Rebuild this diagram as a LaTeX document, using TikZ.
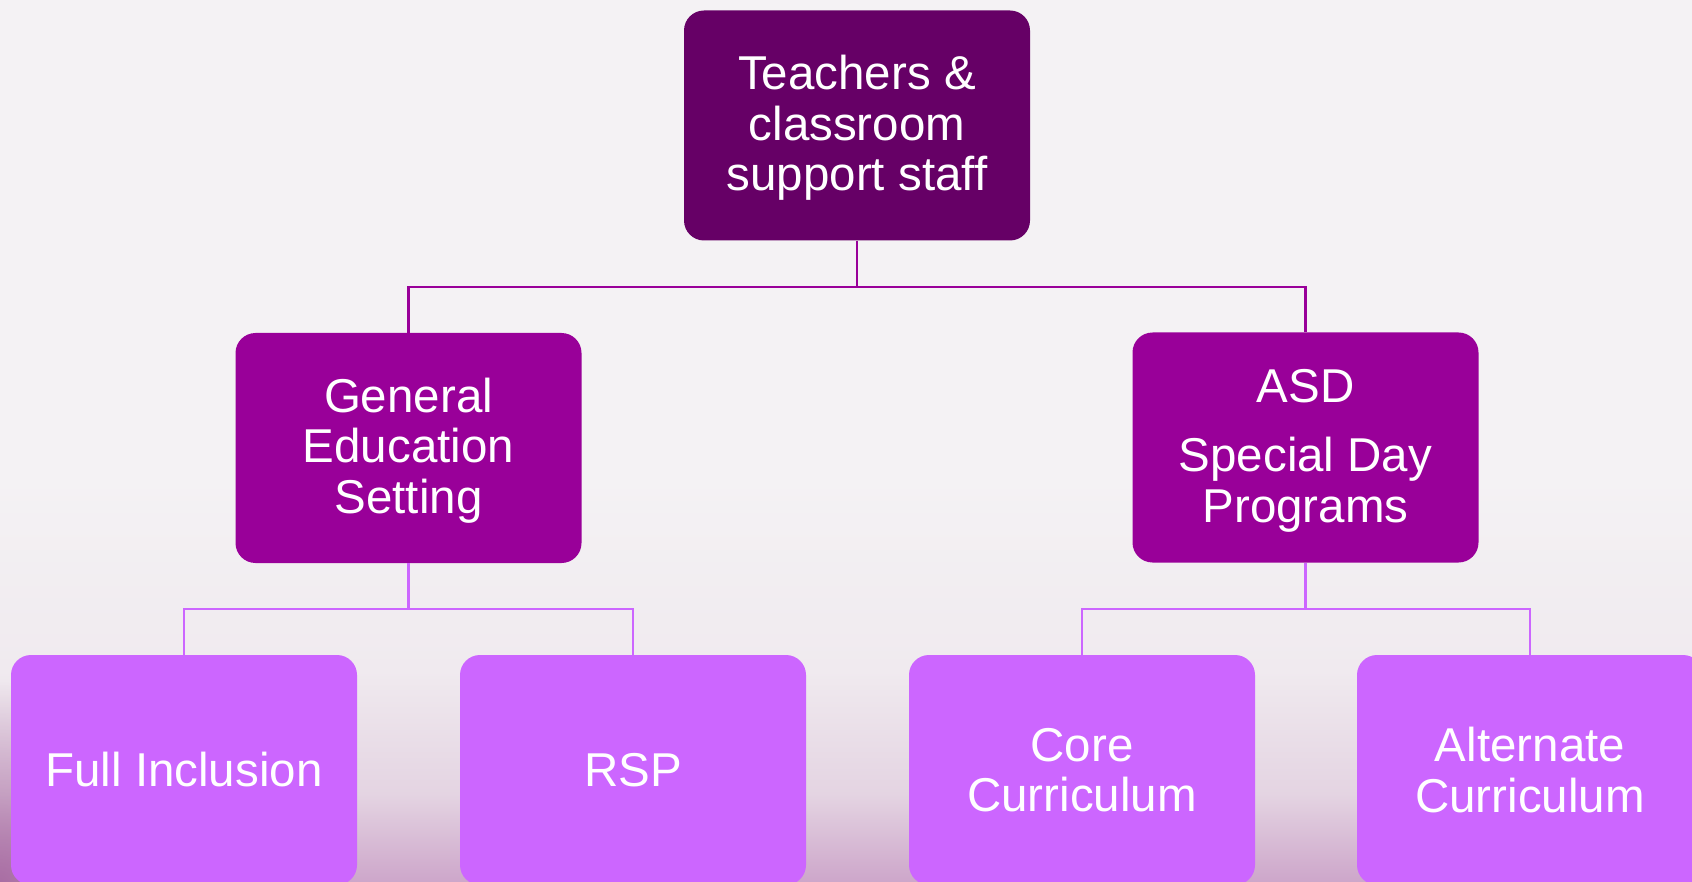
\documentclass[tikz,border=0pt]{standalone}
\usepackage{fontspec}
\setmainfont{Liberation Sans}
\usetikzlibrary{fadings}
\tikzfading[name=cornerfade, inner color=transparent!0, outer color=transparent!100]
\definecolor{bgtop}{HTML}{F4F2F4}
\definecolor{bgmid}{HTML}{F0EAEF}
\definecolor{bglow}{HTML}{E4D4E2}
\definecolor{bgbot}{HTML}{CDA6CA}
\definecolor{darkplum}{HTML}{660066}
\definecolor{plum}{HTML}{990099}
\definecolor{lilac}{HTML}{CC66FF}
\definecolor{cornerpurple}{HTML}{A0609A}
\newcommand{\topadj}{\rule{0pt}{39pt}}
\pgfdeclareverticalshading{bgshade}{100bp}{color(0bp)=(bgbot); color(25bp)=(bgbot); color(30bp)=(bglow); color(37bp)=(bgmid); color(48bp)=(bgtop); color(100bp)=(bgtop)}
\tikzset{
  box/.style={rectangle, rounded corners=20pt, minimum width=346pt, minimum height=230pt,
    inner sep=0pt, align=center, text=white, font=\fontsize{47.5}{50.5}\selectfont},
  lvl0/.style={box, fill=darkplum},
  lvl1/.style={box, fill=plum},
  lvl2/.style={box, fill=lilac},
  conA/.style={draw=plum, line width=2.5pt},
  conB/.style={draw=lilac, line width=2.5pt}
}
\begin{document}
\begin{tikzpicture}[x=1pt, y=-1pt]
\useasboundingbox (0,0) rectangle (1692,882);
\begin{scope}
\clip (0,0) rectangle (1692,882);
\shade[shading=bgshade] (0,0) rectangle (1692,882);
\fill[cornerpurple, path fading=cornerfade, fill opacity=0.8] (0,882) ellipse (170pt and 200pt);

\node[lvl0] (top) at (857,125.5) {\topadj Teachers \&\\classroom\\support staff};
\node[lvl1] (ml) at (408.5,448) {\topadj General\\Education\\Setting};
\node[lvl1] (mr) at (1305.5,447.5) {\topadj ASD\\[19pt]Special Day\\Programs};
\node[lvl2] (b1) at (184,770) {Full Inclusion};
\node[lvl2] (b2) at (633,770) {RSP};
\node[lvl2] (b3) at (1082,770) {Core\\Curriculum};
\node[lvl2] (b4) at (1530,770) {Alternate\\Curriculum};

\coordinate (j0) at (857,287);
\coordinate (j1) at (408.5,609);
\coordinate (j2) at (1305.5,609);

\draw[conA] (top.south) -- (j0);
\draw[conA] (j0) -| (ml.north);
\draw[conA] (j0) -| (mr.north);
\draw[conB] (ml.south) -- (j1);
\draw[conB] (j1) -| (b1.north);
\draw[conB] (j1) -| (b2.north);
\draw[conB] (mr.south) -- (j2);
\draw[conB] (j2) -| (b3.north);
\draw[conB] (j2) -| (b4.north);
\end{scope}
\end{tikzpicture}
\end{document}
